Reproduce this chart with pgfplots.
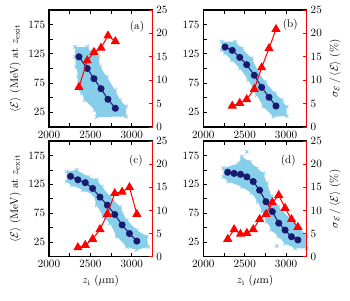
\documentclass[border=0pt]{standalone}
\usepackage{pgfplots}
\usepackage{pgfplotstable}
\pgfplotsset{compat=1.18}
\definecolor{navy}{RGB}{25,25,112}
\definecolor{sky}{RGB}{135,206,235}
\pgfplotstableread{
x y
2314 137
2463 137
2495 129
2596 120
2616 103
2697 86
2797 63
2858 46
2930 35
2930 18
2576 17
2556 29
2435 46
2395 58
2335 66
2354 86
2326 103
2314 120
}\clouda
\pgfplotstableread{
x y
2222 145.8
2383 145.8
2464 134.5
2585 117.4
2664 94.5
2745 77.4
2866 57.6
2947 46.1
3007 34.7
3007 18.8
2846 17.6
2725 34.7
2645 54.7
2544 80.3
2443 100.3
2343 114.5
2262 126
2222 131.6
}\cloudb
\pgfplotstableread{
x y
2214 147
2335 150
2475 138
2576 133
2637 121
2737 104
2858 86
2939 63
3059 46
3180 35
3200 17
3059 12
2939 17
2818 35
2737 58
2656 69
2576 89
2535 107
2414 115
2274 124
2214 130
}\cloudc
\pgfplotstableread{
x y
2242 153
2423 161
2464 173
2564 164
2645 153
2725 144
2766 127
2826 104
2906 86
3047 66
3168 49
3249 35
3249 14.5
3108 14.5
2987 23
2906 35
2826 46
2766 60.5
2713 78
2657 95
2585 110
2464 121
2302 130
2242 138
}\cloudd
\begin{document}
\begin{tikzpicture}[x=1pt,y=1pt]
\useasboundingbox (0,0) rectangle (315,270);
\pgfplotsset{
 base/.style={scale only axis, width=93.15pt, xmin=2000, xmax=3250,
   anchor=south west, tick align=inside,
   major tick length=3.5pt, minor tick length=3.5pt,
   /pgf/number format/set thousands separator={}},
 main/.style={base, ymin=0, ymax=200,
   xtick={2000,2500,3000}, minor xtick={2250,2750},
   ytick={25,75,125,175}, minor ytick={50,100,150},
   xtick pos=both, ytick pos=left,
   axis line style={line width=1pt},
   every tick/.append style={line width=0.8pt, black}},
 twin/.style={base, ymin=0, ymax=25, axis y line*=right, axis x line=none,
   ytick={0,5,10,15,20,25},
   y axis line style={red, line width=1pt},
   every tick/.append style={line width=0.8pt, red}},
 cloudst/.style={fill=sky, draw=none, forget plot},
 cloudmk/.style={only marks, mark=x, sky, mark size=2.2pt, line width=0.8pt},
 circ/.style={navy, line width=0.9pt, mark=*, mark size=2.7pt, mark options={fill=navy}},
 tri/.style={red, line width=0.9pt, mark=triangle*, mark size=3.9pt},
}
% ---------- (a)
\begin{axis}[main, at={(44.1pt,155.7pt)}, height=105.3pt, xticklabel={},
  ylabel={$\langle\mathcal{E}\rangle$ (MeV) at $z_{\mathrm{exit}}$}]
\addplot[cloudst] table {\clouda};
\addplot[cloudmk] table {\clouda};
\addplot[circ] coordinates {(2362,120) (2462,100) (2543,82.6) (2628,65.5) (2712,47.4) (2801,32)};
\node at (rel axis cs:0.85,0.86) {(a)};
\end{axis}
\begin{axis}[twin, at={(44.1pt,155.7pt)}, height=105.3pt]
\addplot[tri] coordinates {(2362,8.5) (2462,14.2) (2543,16) (2628,16.9) (2712,19.5) (2801,18.3)};
\end{axis}
% ---------- (b)
\begin{axis}[main, at={(182.97pt,155.7pt)}, height=105.3pt, xticklabel={}]
\addplot[cloudst] table {\cloudb};
\addplot[cloudmk] table {\cloudb};
\addplot[circ] coordinates {(2262,136.7) (2350,131) (2440,119) (2524,106.5) (2616,88.4) (2705,67.8) (2794,50.8) (2878,35.9)};
\node at (rel axis cs:0.84,0.87) {(b)};
\end{axis}
\begin{axis}[twin, at={(182.97pt,155.7pt)}, height=105.3pt,
  ylabel={$\sigma_{\mathcal{E}}\,/\,\langle\mathcal{E}\rangle$ (\%)}]
\addplot[tri] coordinates {(2350,4.5) (2440,5.1) (2524,5.9) (2616,8.1) (2705,12.7) (2794,16.8) (2878,20.9)};
\end{axis}
% ---------- (c)
\begin{axis}[main, at={(44.1pt,38.97pt)}, height=104.1pt,
  xlabel={$z_{\mathrm{i}}$ ($\mu$m)},
  ylabel={$\langle\mathcal{E}\rangle$ (MeV) at $z_{\mathrm{exit}}$}]
\addplot[cloudst] table {\cloudc};
\addplot[cloudmk] table {\cloudc};
\addplot[circ] coordinates {(2260,139) (2349,133) (2438,128) (2527,118) (2616,103) (2705,89) (2794,73) (2883,55) (2972,40) (3061,27)};
\node at (rel axis cs:0.84,0.83) {(c)};
\end{axis}
\begin{axis}[twin, at={(44.1pt,38.97pt)}, height=104.1pt]
\addplot[tri] coordinates {(2349,2.0) (2438,2.5) (2527,3.8) (2616,5.9) (2705,9.2) (2794,13.7) (2883,14.0) (2972,15.0) (3061,9.2)};
\end{axis}
% ---------- (d)
\begin{axis}[main, at={(182.97pt,38.97pt)}, height=104.1pt,
  xlabel={$z_{\mathrm{i}}$ ($\mu$m)}]
\addplot[cloudst] table {\cloudd};
\addplot[cloudmk] table {\cloudd};
\addplot[cloudmk] coordinates {(2524,181.5) (2887,18.5)};
\addplot[circ] coordinates {(2295,146) (2372,144) (2449,142.5) (2526,138) (2603,130) (2680,115) (2757,95) (2834,78) (2911,58) (2988,46) (3065,34.6) (3142,29)};
\node at (rel axis cs:0.82,0.83) {(d)};
\end{axis}
\begin{axis}[twin, at={(182.97pt,38.97pt)}, height=104.1pt,
  ylabel={$\sigma_{\mathcal{E}}\,/\,\langle\mathcal{E}\rangle$ (\%)}]
\addplot[tri] coordinates {(2295,3.8) (2372,5.9) (2449,4.9) (2526,5.1) (2603,5.9) (2680,8.1) (2757,9.2) (2834,11.7) (2911,13.3) (2988,10.5) (3065,8.1) (3142,6.4)};
\end{axis}
\end{tikzpicture}
\end{document}
